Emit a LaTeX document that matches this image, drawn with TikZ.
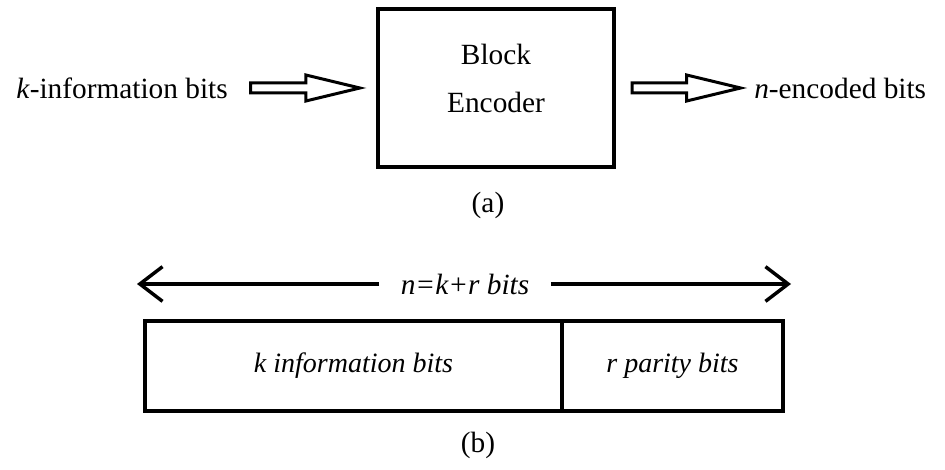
\documentclass[tikz,border=0pt]{standalone}
\usepackage{fontspec}
\setmainfont{Liberation Serif}
\usetikzlibrary{arrows.meta,calc,positioning}

\tikzset{
  hollow/.style={to path={
    let \p1=(\tikztostart), \p2=(\tikztotarget) in
    (\x1,\y1+3.75pt) -- (\x2-40.5pt,\y1+3.75pt) -- (\x2-40.5pt,\y1+9.75pt)
    -- (\x2,\y1) -- (\x2-40.5pt,\y1-9.75pt) -- (\x2-40.5pt,\y1-3.75pt)
    -- (\x1,\y1-3.75pt) -- cycle}},
  cell/.style={draw, line width=3pt, outer sep=0pt, minimum height=67.5pt,
    text height=15pt, text depth=5pt, font=\fontsize{21}{25}\selectfont\itshape},
  span/.style={line width=2.6pt, -{Straight Barb[length=17pt,width=26pt,line width=2.6pt]}}
}

\begin{document}
\begin{tikzpicture}[x=0.75pt,y=-0.75pt]
	\tikzstyle{every node}=[font=\fontsize{22}{26}\selectfont, inner sep=0pt]
	\useasboundingbox (0,0) rectangle (945,470);
	% (a) block encoder
	\node [draw, line width=3.2pt, minimum width=177pt, minimum height=118pt] (enc) at (496,88) {};
	\node at ([yshift=25.5pt]enc.center) {Block};
	\node at ([yshift=-11pt]enc.center) {Encoder};
	\node [anchor=east] (kin) at (228,88) {\textit{k}-information bits};
	\node [anchor=west] (nout) at (754,88) {\textit{n}-encoded bits};
	\draw [line width=2.25pt] ([xshift=17pt]kin.east) to[hollow] ([xshift=-12pt]enc.west);
	\draw [line width=2.25pt] ([xshift=12pt]enc.east) to[hollow] ([xshift=-10pt]nout.west);
	\node (capa) at (488,205) {(a)};
	% (b) codeword
	\coordinate (lt) at (137,284);
	\coordinate (rt) at (791,284);
	\node [font=\fontsize{22}{26}\selectfont\itshape, inner xsep=16pt] (nlab) at (465,284) {n=k+r bits};
	\draw [span] (nlab.west) -- (lt);
	\draw [span] (nlab.east) -- (rt);
	\node [cell, minimum width=312.75pt] (kinf) at (353.5,366) {k information bits};
	\node [cell, minimum width=165.75pt, right=0pt of kinf] (rpar) {r parity bits};
	\node (capb) at (478,445) {(b)};
\end{tikzpicture}
\end{document}
